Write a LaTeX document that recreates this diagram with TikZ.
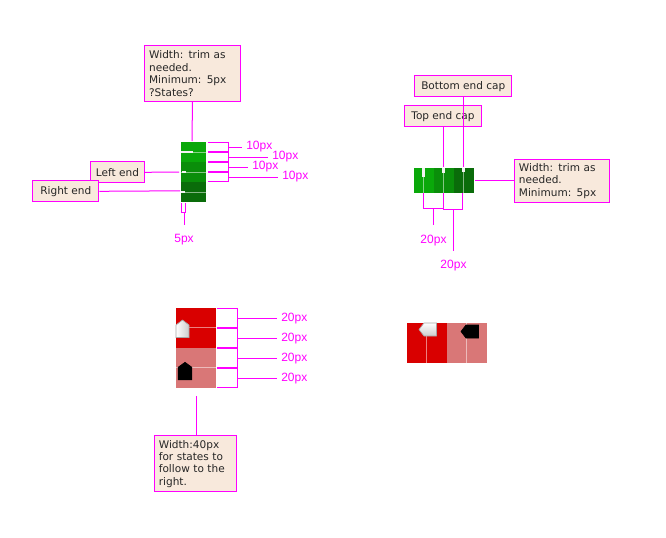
\documentclass[tikz,border=0pt]{standalone}
\usepackage{fontspec}
\setmainfont{DejaVu Sans}
\newfontfamily\dimfont{Liberation Sans}
\usetikzlibrary{positioning,calc}
\definecolor{hotPink}{RGB}{255,0,255}
\definecolor{noteFill}{RGB}{248,233,220}
\definecolor{greenA}{RGB}{10,168,10}
\definecolor{greenB}{RGB}{10,142,10}
\definecolor{greenC}{RGB}{10,108,10}
\definecolor{redA}{RGB}{217,0,0}
\definecolor{redB}{RGB}{217,119,119}

\begin{document}
\begin{tikzpicture}[
    x=0.75pt,y=-0.75pt,
    note/.style ={draw=hotPink,fill=noteFill,line width=0.75pt,anchor=north west,inner ysep=0pt,inner xsep=3pt,
                  align=left,font=\fontsize{7.9}{9.35}\selectfont,text=black!85},
    dim/.style  ={text=hotPink,font=\dimfont\fontsize{9}{11}\selectfont,inner sep=3pt},
    wire/.style ={draw=hotPink,line width=0.75pt},
    tick/.style ={draw=hotPink,line width=1.5pt},
    band/.style ={anchor=north west,inner sep=0pt,minimum size=0pt},
    track/.style={draw=white,line width=0.75pt,opacity=.5},
    thumb/.style={fill=white!90!gray},
]

\tikzset{
  pics/grip/.style={
    code={
      \draw[pic actions,line width=0.5pt] (0,0) -- (6.5,5) -- (6.5,17.5) -- (-6.5,17.5) -- (-6.5,5) -- cycle;
    }
  }
}

\useasboundingbox (0,0) rectangle (666,537);

% ---------- Vertical green scrollbar ----------
\node[band,fill=greenA,minimum width=18.75pt,minimum height=15pt] (vA) at (181,142) {};
\node[band,fill=greenB,minimum width=18.75pt,minimum height=15pt] (vB) at (181,162) {};
\node[band,fill=greenC,minimum width=18.75pt,minimum height=15pt] (vC) at (181,182) {};
\foreach \y in {152,172,192}
  \draw[track] (181,\y) -- (206,\y);
\fill[thumb] (181,150.5) rectangle (193,153);
\fill[thumb] (182,170.5) rectangle (186,173);
\fill[thumb] (181,190.5) rectangle (185,193);

\node[note,minimum width=71.5pt,minimum height=41.5pt,text width=65pt] (trimV) at (144.3,45.3)
  {Width: trim as\\needed.\\Minimum: 5px\\?States?};
\node[note,minimum width=40pt,minimum height=15.75pt] (leftEnd) at (90.3,161.3) {Left end};
\node[note,minimum width=49.5pt,minimum height=15.75pt] (rightEnd) at (32.3,180.3) {Right end};

\coordinate (trimVEnd) at (192,141);
\coordinate (leftEndTip) at (179,172);
\coordinate (rightEndTip) at (180,190.8);
\draw[wire] (trimV.south) -- (trimVEnd);
\draw[wire] (leftEnd.east) -- (leftEndTip);
\draw[wire] (rightEnd.east) -- (rightEndTip);

% 10px brackets
\draw[wire] (208,142.3) -- (228.5,142.3) -- (228.5,181.3) -- (208,181.3);
\foreach \y in {152,162,172}
  \draw[tick] (208,\y) -- (228.5,\y);
\foreach \name/\y/\xa in {tenA/147/242,tenB/157/268,tenC/167/248,tenD/177/278}{
  \node[dim,anchor=west] (\name) at (\xa,\y) {10px};
  \coordinate (\name Root) at (228.5,\y);
  \draw[wire] (\name Root) -- (\name.west);
}

% 5px bracket
\draw[wire] (181.5,203) -- (181.5,212) -- (185.7,212) -- (185.7,203);
\coordinate (fiveRoot) at (184,212);
\node[dim,anchor=north] (five) at (184,230) {5px};
\coordinate (fiveTip) at (184,224.7);
\draw[wire] (fiveRoot) -- (fiveTip);

% ---------- Horizontal green scrollbar ----------
\foreach \name/\col/\x in {hA/greenA/414,hB/greenB/434,hC/greenC/454}
  \node[band,fill=\col,minimum width=15pt,minimum height=18.75pt] (\name) at (\x,168) {};
\foreach \x in {423.5,443.5,463.5}
  \draw[track] (\x,168) -- (\x,193);
\fill[thumb] (422,168) rectangle (425,177);
\fill[thumb] (442,168) rectangle (445,173);
\fill[thumb] (462,168) rectangle (465,172);

\node[note,minimum width=72.75pt,minimum height=15.75pt] (bottomCap) at (414.3,75.3) {Bottom end cap};
\node[note,minimum width=57.25pt,minimum height=15.75pt] (topCap) at (404.3,105.3) {Top end cap};
\node[note,minimum width=71.25pt,minimum height=32.75pt,text width=65pt] (trimH) at (514.3,158.7)
  {Width: trim as\\needed.\\Minimum: 5px};

\coordinate (bottomCapTip) at (463.3,167);
\coordinate (topCapTip) at (443.3,167);
\coordinate (trimHTip) at (475,180.3);
\draw[wire] (bottomCapTip |- bottomCap.south) -- (bottomCapTip);
\draw[wire] (topCapTip |- topCap.south) -- (topCapTip);
\draw[wire] (trimHTip) -- (trimH.west |- trimHTip);

% 20px brackets
\draw[wire] (423.5,193) -- (423.5,208.3) -- (443.5,208.3) -- (443.5,193);
\draw[wire] (443.5,193) -- (443.5,209.3) -- (462.5,209.3) -- (462.5,193);
\node[dim,anchor=north] (capA) at (433.5,230.5) {20px};
\node[dim,anchor=north] (capB) at (453.5,255.5) {20px};
\coordinate (capARoot) at (433.5,208.3);
\coordinate (capBRoot) at (453.5,209.3);
\coordinate (capATip) at (433.5,225.3);
\coordinate (capBTip) at (453.5,250.7);
\draw[wire] (capARoot) -- (capATip);
\draw[wire] (capBRoot) -- (capBTip);

% ---------- Vertical red scrollbar ----------
\node[band,fill=redA,minimum width=30pt,minimum height=30pt] (redTop) at (176,308) {};
\node[band,fill=redB,minimum width=30pt,minimum height=30pt] (redLow) at (176,348) {};
\foreach \y in {327.5,367.5}
  \draw[track] (176,\y) -- (216,\y);
\pic[draw=gray!70,left color=white,right color=gray!40] (gripW) at (182.5,320) {grip};
\pic[draw=black,fill=black,xscale=1.05] (gripK) at (185,362.3) {grip};

\draw[wire] (217,308.3) -- (237.7,308.3) -- (237.7,387.7) -- (217,387.7);
\foreach \y in {328,348,368}
  \draw[tick] (217,\y) -- (237.7,\y);
\foreach \name/\y in {twentyA/318.3,twentyB/338.3,twentyC/358.3,twentyD/378.3}{
  \node[dim,anchor=west] (\name) at (277,\y) {20px};
  \coordinate (\name Root) at (237.7,\y);
  \draw[wire] (\name Root) -- (\name.west);
}

\node[note,minimum width=61.5pt,minimum height=42pt,text width=55.5pt] (stateNote) at (154.3,435.3)
  {Width:40px\\for states to\\follow to the\\right.};
\coordinate (stateTip) at (196.3,396);
\draw[wire] (stateTip) -- (stateTip |- stateNote.north);

% ---------- Horizontal red scrollbar ----------
\node[band,fill=redA,minimum width=30pt,minimum height=30pt] (redLeft) at (407,323) {};
\node[band,fill=redB,minimum width=30pt,minimum height=30pt] (redRight) at (447,323) {};
\foreach \x in {426.5,466.5}
  \draw[track] (\x,323) -- (\x,363);
\pic[draw=gray!70,top color=white,bottom color=gray!40,rotate=90] (gripWH) at (419,329.5) {grip};
\pic[draw=black,fill=black,rotate=90] (gripKH) at (461,331.5) {grip};

\end{tikzpicture}
\end{document}
